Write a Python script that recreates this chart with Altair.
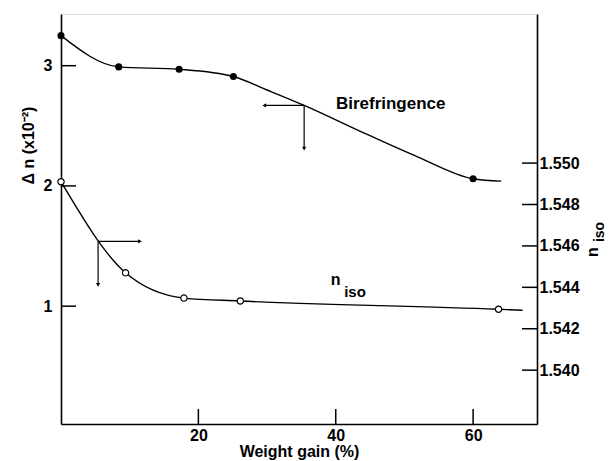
import altair as alt
import pandas as pd

W, H = 476, 410
FONT = "Liberation Sans"

# ---- data ----
# Birefringence (left axis, Δn x10^-2), filled circles
bire_gain = [0.0, 8.4, 17.2, 25.1, 60.0]
bire_dn = [3.25, 2.99, 2.97, 2.91, 2.06]
# drawn smooth curve (markers, intermediate curve points, curve end)
bire_curve_gain = [0.0, 8.4, 17.2, 25.1, 29.9, 35.4, 44.5, 52.0, 60.0, 64.1]
bire_curve_dn = [3.25, 2.99, 2.97, 2.91, 2.80, 2.67, 2.43, 2.24, 2.06, 2.04]

# n_iso (right axis), open circles
niso_gain = [0.0, 9.4, 17.9, 26.1, 63.7]
niso_val = [1.5491, 1.5447, 1.54348, 1.54334, 1.54294]
niso_curve_gain = [0.0, 9.4, 17.9, 26.1, 63.7, 67.2]
niso_curve_val = [1.5491, 1.5447, 1.54348, 1.54334, 1.54294, 1.54289]

x_ticks = [20, 40, 60]
left_ticks = [1, 2, 3]
right_ticks = [1.540, 1.542, 1.544, 1.546, 1.548, 1.550]

X_DOMAIN = [0, 69.3]
LEFT_DOMAIN = [0.02, 3.43]
RIGHT_DOMAIN = [1.5374, 1.5572]

# arrows (start, end, head shape)
bire_arrow_x = [35.4, 35.4]
bire_arrow_y = [2.67, 2.67]
bire_arrow_x2 = [29.6, 35.4]
bire_arrow_y2 = [2.67, 2.31]
bire_arrow_shape = ["triangle-left", "triangle-down"]

niso_arrow_x = [5.4, 5.4]
niso_arrow_y = [1.54622, 1.54622]
niso_arrow_x2 = [11.5, 5.4]
niso_arrow_y2 = [1.54622, 1.54412]
niso_arrow_shape = ["triangle-right", "triangle-down"]

# ---- tables ----
df_bc = pd.DataFrame({"gain": bire_curve_gain, "v": bire_curve_dn})
df_bp = pd.DataFrame({"gain": bire_gain, "v": bire_dn})
df_nc = pd.DataFrame({"gain": niso_curve_gain, "v": niso_curve_val})
df_np = pd.DataFrame({"gain": niso_gain, "v": niso_val})
df_xt = pd.DataFrame({"gain": x_ticks})
df_lt = pd.DataFrame({"v": left_ticks})
df_rt = pd.DataFrame({"v": right_ticks})
df_ba = pd.DataFrame({"gain": bire_arrow_x, "v": bire_arrow_y,
                      "gain2": bire_arrow_x2, "v2": bire_arrow_y2, "shape": bire_arrow_shape})
df_na = pd.DataFrame({"gain": niso_arrow_x, "v": niso_arrow_y,
                      "gain2": niso_arrow_x2, "v2": niso_arrow_y2, "shape": niso_arrow_shape})

# ---- scales / axes ----
xscale = alt.Scale(domain=X_DOMAIN, nice=False, zero=False)
lscale = alt.Scale(domain=LEFT_DOMAIN, nice=False, zero=False)
rscale = alt.Scale(domain=RIGHT_DOMAIN, nice=False, zero=False)

common = dict(ticks=False, grid=False, domainColor="black", domainWidth=1.6,
              labelFont=FONT, labelFontSize=16, labelFontWeight="bold", labelColor="black",
              titleFont=FONT, titleFontSize=16, titleFontWeight="bold", titleColor="black")

xaxis = alt.Axis(values=x_ticks, format="d", labelPadding=3, titleY=27, titleX=W / 2,
                 titleAlign="center", titleBaseline="middle", **common)
laxis = alt.Axis(orient="left", values=left_ticks, format="d", labelPadding=9,
                 titleAngle=270, titleX=-33, titleY=131, titleAlign="center",
                 titleBaseline="middle", **common)
raxis = alt.Axis(orient="right", values=right_ticks, format=".3f", labelPadding=2, **common)


def xenc(f):
    return alt.X(f"{f}:Q", scale=xscale, axis=xaxis, title="Weight gain (%)")


def yl(f):
    return alt.Y(f"{f}:Q", scale=lscale, axis=laxis, title="Δ n (x10⁻²)")


def yr(f):
    return alt.Y(f"{f}:Q", scale=rscale, axis=raxis, title="")


# ---- left (birefringence) group ----
bire_line = alt.Chart(df_bc).mark_line(interpolate="monotone", color="black", strokeWidth=1.4).encode(
    x=xenc("gain"), y=yl("v"))
bire_pts = alt.Chart(df_bp).mark_circle(size=50, color="black", opacity=1).encode(
    x=xenc("gain"), y=yl("v"))
lticks = alt.Chart(df_lt).mark_rule(color="black", strokeWidth=1.5).encode(
    y=yl("v"), x=alt.value(0), x2=alt.value(15))
xticks = alt.Chart(df_xt).mark_rule(color="black", strokeWidth=1.5).encode(
    x=xenc("gain"), y=alt.value(H - 15), y2=alt.value(H))
bire_arr = alt.Chart(df_ba).mark_rule(color="black", strokeWidth=1.2).encode(
    x=xenc("gain"), x2="gain2", y=yl("v"), y2="v2")
bire_head = alt.Chart(df_ba).mark_point(filled=True, size=18, color="black", opacity=1).encode(
    x=xenc("gain2"), y=yl("v2"), shape=alt.Shape("shape:N", scale=None))
lbl_bire = alt.Chart(pd.DataFrame({"gain": [48.0], "v": [2.683], "t": ["Birefringence"]})).mark_text(
    font=FONT, fontSize=17, fontWeight="bold", color="black", align="center", baseline="middle").encode(
    x=xenc("gain"), y=yl("v"), text="t:N")
lbl_n = alt.Chart(pd.DataFrame({"gain": [40.0], "v": [1.217], "t": ["n"]})).mark_text(
    font=FONT, fontSize=16, fontWeight="bold", color="black", align="center", baseline="middle").encode(
    x=xenc("gain"), y=yl("v"), text="t:N")
lbl_iso = alt.Chart(pd.DataFrame({"gain": [42.8], "v": [1.12], "t": ["iso"]})).mark_text(
    font=FONT, fontSize=15, fontWeight="bold", color="black", align="center", baseline="middle").encode(
    x=xenc("gain"), y=yl("v"), text="t:N")

left = alt.layer(bire_line, bire_pts, lticks, xticks, bire_arr, bire_head, lbl_bire, lbl_n, lbl_iso)

# ---- right (n_iso) group ----
niso_line = alt.Chart(df_nc).mark_line(interpolate="monotone", color="black", strokeWidth=1.4).encode(
    x=xenc("gain"), y=yr("v"))
niso_pts = alt.Chart(df_np).mark_point(shape="circle", size=40, filled=True, fill="white",
                                        stroke="black", strokeWidth=1.2, opacity=1).encode(
    x=xenc("gain"), y=yr("v"))
rticks = alt.Chart(df_rt).mark_rule(color="black", strokeWidth=1.5).encode(
    y=yr("v"), x=alt.value(W - 15), x2=alt.value(W))
niso_arr = alt.Chart(df_na).mark_rule(color="black", strokeWidth=1.2).encode(
    x=xenc("gain"), x2="gain2", y=yr("v"), y2="v2")
niso_head = alt.Chart(df_na).mark_point(filled=True, size=18, color="black", opacity=1).encode(
    x=xenc("gain2"), y=yr("v2"), shape=alt.Shape("shape:N", scale=None))
rt_n = alt.Chart(pd.DataFrame({"t": ["n"]})).mark_text(
    font=FONT, fontSize=16, fontWeight="bold", color="black", angle=270,
    align="center", baseline="middle").encode(x=alt.value(W + 56), y=alt.value(238), text="t:N")
rt_iso = alt.Chart(pd.DataFrame({"t": ["iso"]})).mark_text(
    font=FONT, fontSize=14, fontWeight="bold", color="black", angle=270,
    align="center", baseline="middle").encode(x=alt.value(W + 63), y=alt.value(218), text="t:N")

right = alt.layer(niso_line, niso_pts, rticks, niso_arr, niso_head, rt_n, rt_iso)

chart = alt.layer(left, right).resolve_scale(y="independent").properties(
    width=W, height=H,
    autosize=alt.AutoSizeParams(type="none"),
    padding={"left": 53, "top": 6, "right": 70, "bottom": 38},
).configure_view(stroke=None).configure(font=FONT)

chart.save("out.html", embed_options={"renderer": "svg", "actions": False})
